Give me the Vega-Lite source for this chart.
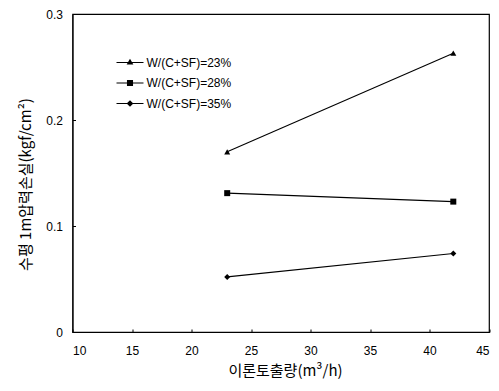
{
  "$schema": "https://vega.github.io/schema/vega-lite/v6.json",
  "width": 416.5,
  "height": 318,
  "autosize": {"type": "none"},
  "padding": {"left": 72.5, "top": 14, "right": 10, "bottom": 59},
  "background": "white",
  "data": {
    "values": [
      {"flow": 23, "loss": 0.170, "series": "W/(C+SF)=23%"},
      {"flow": 42, "loss": 0.263, "series": "W/(C+SF)=23%"},
      {"flow": 23, "loss": 0.131, "series": "W/(C+SF)=28%"},
      {"flow": 42, "loss": 0.123, "series": "W/(C+SF)=28%"},
      {"flow": 23, "loss": 0.052, "series": "W/(C+SF)=35%"},
      {"flow": 42, "loss": 0.074, "series": "W/(C+SF)=35%"}
    ]
  },
  "config": {
    "view": {"stroke": "black", "strokeWidth": 1.2},
    "font": "Liberation Sans",
    "axis": {
      "grid": false,
      "domainColor": "black",
      "tickColor": "black",
      "labelColor": "black",
      "titleColor": "black",
      "labelFont": "Liberation Sans",
      "labelFontSize": 12,
      "titleFont": "Noto Sans CJK KR",
      "titleFontSize": 15,
      "titleFontWeight": "normal"
    }
  },
  "encoding": {
    "x": {
      "field": "flow",
      "type": "quantitative",
      "scale": {"domain": [10, 45], "nice": false, "zero": false},
      "axis": {
        "values": [10, 15, 20, 25, 30, 35, 40, 45],
        "tickSize": -3,
        "labelPadding": 16,
        "labelDx": 3,
        "title": "이론토출량(m³/h)",
        "titleX": 212.5,
        "titleY": 38,
        "titleBaseline": "middle",
        "titleAlign": "center"
      }
    },
    "y": {
      "field": "loss",
      "type": "quantitative",
      "scale": {"domain": [0, 0.3], "nice": false},
      "axis": {
        "values": [0, 0.1, 0.2, 0.3],
        "labelExpr": "datum.value == 0 ? '0' : format(datum.value, '.1f')",
        "tickSize": -3,
        "labelPadding": 13,
        "title": "수평 1m압력손실(kgf/cm²)",
        "titleAngle": -90,
        "titleX": -47.5,
        "titleY": 170,
        "titleBaseline": "middle",
        "titleAlign": "center"
      }
    }
  },
  "layer": [
    {
      "mark": {"type": "line", "color": "black", "strokeWidth": 1.1},
      "encoding": {"detail": {"field": "series"}}
    },
    {
      "mark": {"type": "point", "filled": true, "color": "black", "opacity": 1, "size": 36},
      "encoding": {
        "shape": {
          "field": "series",
          "type": "nominal",
          "scale": {"range": ["triangle-up", "square", "diamond"]},
          "legend": null
        }
      }
    },
    {
      "mark": {"type": "point", "filled": true, "color": "black", "opacity": 0, "size": 182},
      "encoding": {
        "shape": {
          "field": "series",
          "type": "nominal",
          "scale": {"range": [
            "M-2,-0.075L2,-0.075L2,0.075L-2,0.075ZM0,-0.55L0.5,0.3L-0.5,0.3Z",
            "M-2,-0.075L2,-0.075L2,0.075L-2,0.075ZM-0.45,-0.45L0.45,-0.45L0.45,0.45L-0.45,0.45Z",
            "M-2,-0.075L2,-0.075L2,0.075L-2,0.075ZM0,-0.5L0.5,0L0,0.5L-0.5,0Z"
          ]},
          "legend": {
            "title": null,
            "orient": "none",
            "legendX": 50,
            "legendY": 41,
            "padding": 0,
            "rowPadding": 6.5,
            "labelOffset": 9,
            "labelFont": "Liberation Sans",
            "labelFontSize": 12,
            "labelColor": "black",
            "symbolOpacity": 1,
            "symbolSize": 182,
            "symbolFillColor": "black"
          }
        }
      }
    }
  ],
  "resolve": {"scale": {"shape": "independent"}, "legend": {"shape": "independent"}}
}
